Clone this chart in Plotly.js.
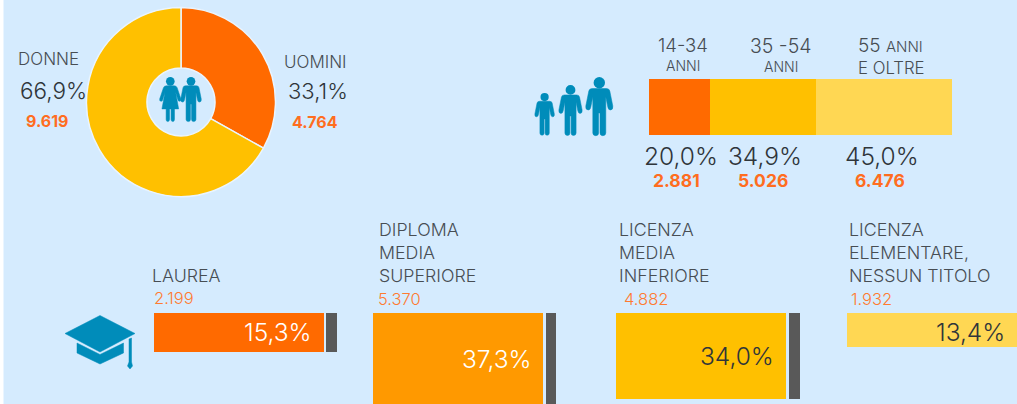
<!DOCTYPE html>
<html><head><meta charset="utf-8">
<script src="https://cdn.plot.ly/plotly-3.0.1.min.js"></script>
<style>html,body{margin:0;padding:0;background:#d5ebfe;overflow:hidden}#c{width:1017px;height:404px}</style>
</head><body><div id="c"></div>
<script>
// ---- data ----
const genderLabels = ["UOMINI", "DONNE"];
const genderValues = [4764, 9619];
const genderPct = ["33,1%", "66,9%"];
const genderCounts = ["4.764", "9.619"];

const ageNames = ["14-34 anni", "35-54 anni", "55 anni e oltre"];
const ageValues = [2881, 5026, 6476];
const agePct = ["20,0%", "34,9%", "45,0%"];
const ageCounts = ["2.881", "5.026", "6.476"];

const eduNames = ["LAUREA", "DIPLOMA MEDIA SUPERIORE", "LICENZA MEDIA INFERIORE", "LICENZA ELEMENTARE, NESSUN TITOLO"];
const eduValues = [2199, 5370, 4882, 1932];
const eduPct = ["15,3%", "37,3%", "34,0%", "13,4%"];
const eduCounts = ["2.199", "5.370", "4.882", "1.932"];
const eduMarkerValues = [2199, 5370, 4882];

// ---- layout constants ----
const W = 1017, H = 404;
const BG = "#d5ebfe", ORANGE = "#ff6a00", AMBER = "#ffc000", LIGHT = "#ffd753", DEEP = "#ff9900";
const GRAY = "#595959", BLUE = "#008cba", INK = "#2f353a", LABEL = "#474d53", NUM = "#ff6d1f", NUM2 = "#ff7a30";
const FONT = "Inter, Lato, 'Open Sans', sans-serif";
const eduLeft = [153.7, 373, 616.3, 847], eduWidth = 170;
const markLeft = [326, 545.6, 789], markWidth = 10.5;
const eduTop = 312.5, unitsPerPx = 2199 / 38.7;

const px = x => x / W, py = y => 1 - y / H;

const traces = [
  {type: "pie", values: genderValues, labels: genderLabels, sort: false, direction: "clockwise", rotation: 0,
   hole: 0.36, textinfo: "none", hoverinfo: "skip", showlegend: false,
   marker: {colors: [ORANGE, AMBER], line: {color: "#eaf5ff", width: 1.5}},
   domain: {x: [px(86.5), px(275.5)], y: [py(197.5), py(6.5)]}}
];
[ORANGE, AMBER, LIGHT].forEach((c, i) => traces.push({
  type: "bar", orientation: "h", xaxis: "x", yaxis: "y", y: [0], x: [ageValues[i]], width: 1, name: ageNames[i],
  marker: {color: c}, hoverinfo: "skip", showlegend: false
}));
traces.push({
  type: "bar", xaxis: "x2", yaxis: "y2", x: eduLeft.map(l => l + eduWidth / 2), y: eduValues, width: eduWidth,
  marker: {color: [ORANGE, DEEP, AMBER, LIGHT]}, hoverinfo: "skip", showlegend: false, text: eduNames, textposition: "none"
});
traces.push({
  type: "bar", xaxis: "x2", yaxis: "y2", x: markLeft.map(l => l + markWidth / 2), y: eduMarkerValues, width: markWidth,
  marker: {color: GRAY}, hoverinfo: "skip", showlegend: false
});

const ann = [];
function T(text, x, y, size, color, anchor, weight) {
  ann.push({text, xref: "paper", yref: "paper", x: px(x), y: py(y), xanchor: anchor || "left", yanchor: "middle",
    showarrow: false, align: anchor || "left", borderpad: 0, borderwidth: 0,
    font: {family: FONT, size, color, weight: weight || 300}});
}
// gender
T("DONNE", 18, 59, 17, LABEL);
T(genderPct[1], 20, 91, 22.5, INK);
T(genderCounts[1], 26, 121, 16, NUM, "left", 700);
T(genderLabels[0], 284, 62, 17, LABEL);
T(genderPct[0], 288, 91.5, 22, INK);
T(genderCounts[0], 292, 122, 16, NUM, "left", 700);
// age
T("14-34", 682.5, 45, 18.5, LABEL, "center");
T("ANNI", 682.5, 65.5, 14, LABEL, "center");
T("35 -54", 780.7, 46, 19.5, LABEL, "center");
T("ANNI", 780.7, 66.5, 14, LABEL, "center");
T("55 <span style='font-size:15px'>ANNI</span>", 858, 46, 19, LABEL);
T("E OLTRE", 858, 68, 16.8, LABEL);
[680.5, 765, 881.7].forEach((x, i) => T(agePct[i], x, 156, 24.5, INK, "center"));
[676.7, 763, 880].forEach((x, i) => T(ageCounts[i], x, 181, 17.5, NUM, "center", 700));
// education
T("LAUREA", 152, 275.5, 17.8, LABEL);
["DIPLOMA", "MEDIA", "SUPERIORE"].forEach((s, i) => T(s, 379, [229.5, 252.5, 275.5][i], 17.8, LABEL));
["LICENZA", "MEDIA", "INFERIORE"].forEach((s, i) => T(s, 618.5, [229.5, 252.5, 275.5][i], 17.8, LABEL));
["LICENZA", "ELEMENTARE,", "NESSUN TITOLO"].forEach((s, i) => T(s, 849, [229.5, 252.5, 275.5][i], 17.8, LABEL));
[154, 378, 624, 850.5].forEach((x, i) => T(eduCounts[i], x, i ? 299 : 297.5, 16.5, NUM2));
T(eduPct[0], 312, 332, 24.5, "#ffffff", "right");
T(eduPct[1], 531.5, 359, 24.5, "#ffffff", "right");
T(eduPct[2], 773.5, 356, 24.5, INK, "right");
T(eduPct[3], 1005, 332, 24.5, INK, "right");

// ---- icons (drawn in pixel space, converted to paper coordinates) ----
const shapes = [{type: "rect", xref: "paper", yref: "paper", x0: 0, x1: px(3.5), y0: 0, y1: 1, fillcolor: "#ffffff", line: {width: 0}, layer: "below"}];
function pathFrom(list) {
  return list.map(seg => seg[0] + seg.slice(1).map((v, i) => i % 2 ? py(v) : px(v)).join(",")).join(" ") + " Z";
}
function addPath(list) {
  shapes.push({type: "path", xref: "paper", yref: "paper", path: pathFrom(list), fillcolor: BLUE, line: {color: BLUE, width: 0.5}});
}
function head(cx, cy, r) {
  shapes.push({type: "circle", xref: "paper", yref: "paper", x0: px(cx - r), x1: px(cx + r), y0: py(cy + r), y1: py(cy - r), fillcolor: BLUE, line: {width: 0}});
}
function man(cx, top, s) {
  const X = u => cx + u * s, Y = v => top + v * s;
  head(cx, Y(5.7), 5.7 * s);
  addPath([
    ["M", X(-7), Y(11.5)], ["L", X(7), Y(11.5)], ["Q", X(10), Y(11.5), X(10.5), Y(14)],
    ["L", X(13.5), Y(29)], ["Q", X(14), Y(33), X(11), Y(33)], ["Q", X(9), Y(33), X(8.5), Y(30)],
    ["L", X(6.5), Y(20)], ["L", X(6.5), Y(56)], ["Q", X(6.3), Y(58.7), X(3.5), Y(58.7)], ["Q", X(0.8), Y(58.7), X(0.7), Y(56)],
    ["L", X(0.7), Y(36)], ["L", X(-0.7), Y(36)], ["L", X(-0.7), Y(56)], ["Q", X(-0.8), Y(58.7), X(-3.5), Y(58.7)],
    ["Q", X(-6.3), Y(58.7), X(-6.5), Y(56)], ["L", X(-6.5), Y(20)], ["L", X(-8.5), Y(30)], ["Q", X(-9), Y(33), X(-11), Y(33)],
    ["Q", X(-14), Y(33), X(-13.5), Y(29)], ["L", X(-10.5), Y(14)], ["Q", X(-10), Y(11.5), X(-7), Y(11.5)]
  ]);
}
function woman(cx, top, s) {
  const X = u => cx + u * s, Y = v => top + v * s;
  head(cx, Y(5.7), 5.7 * s);
  addPath([
    ["M", X(-5), Y(11.5)], ["L", X(5), Y(11.5)], ["Q", X(8), Y(11.5), X(9), Y(14)],
    ["L", X(14), Y(29)], ["Q", X(14.5), Y(32), X(12), Y(32)], ["Q", X(10.5), Y(32), X(10), Y(30)],
    ["L", X(7), Y(20)], ["L", X(11), Y(42)], ["L", X(5.5), Y(42)], ["L", X(5.5), Y(56)],
    ["Q", X(5.3), Y(58.7), X(3.4), Y(58.7)], ["Q", X(1.2), Y(58.7), X(1), Y(56)], ["L", X(1), Y(42)],
    ["L", X(-1), Y(42)], ["L", X(-1), Y(56)], ["Q", X(-1.2), Y(58.7), X(-3.4), Y(58.7)],
    ["Q", X(-5.3), Y(58.7), X(-5.5), Y(56)], ["L", X(-5.5), Y(42)], ["L", X(-11), Y(42)], ["L", X(-7), Y(20)],
    ["L", X(-10), Y(30)], ["Q", X(-10.5), Y(32), X(-12), Y(32)], ["Q", X(-14.5), Y(32), X(-14), Y(29)],
    ["L", X(-9), Y(14)], ["Q", X(-8), Y(11.5), X(-5), Y(11.5)]
  ]);
}
woman(170.3, 77, 0.76);
man(191, 77, 0.76);
man(544.6, 93, 0.72);
man(570.5, 85, 0.86);
man(599.3, 77, 1);
// graduation cap
addPath([["M", 100, 315.5], ["L", 135, 333.5], ["L", 100, 352], ["L", 65, 333.5]]);
addPath([["M", 77, 343], ["L", 100, 354.5], ["L", 123.5, 343], ["L", 123.5, 353], ["L", 100, 364], ["L", 77, 353]]);
addPath([["M", 129, 339], ["L", 131.5, 338], ["L", 131.5, 362], ["L", 132.5, 366], ["L", 130, 369], ["L", 127.5, 366], ["L", 129, 362]]);

const off = {visible: false, fixedrange: true};
const layout = {
  width: W, height: H, margin: {l: 0, r: 0, t: 0, b: 0}, paper_bgcolor: BG, plot_bgcolor: "rgba(0,0,0,0)",
  barmode: "stack", bargap: 0, showlegend: false, hovermode: false,
  xaxis: Object.assign({domain: [px(649), px(952)], range: [0, ageValues.reduce((a, b) => a + b, 0)], anchor: "y"}, off),
  yaxis: Object.assign({domain: [py(135), py(79)], range: [-0.5, 0.5], anchor: "x"}, off),
  xaxis2: Object.assign({domain: [0, 1], range: [0, W], anchor: "y2"}, off),
  yaxis2: Object.assign({domain: [0, py(eduTop)], range: [(H - eduTop) * unitsPerPx, 0], anchor: "x2"}, off),
  annotations: ann, shapes
};
Plotly.newPlot("c", traces, layout, {displayModeBar: false, responsive: false});
</script></body></html>
